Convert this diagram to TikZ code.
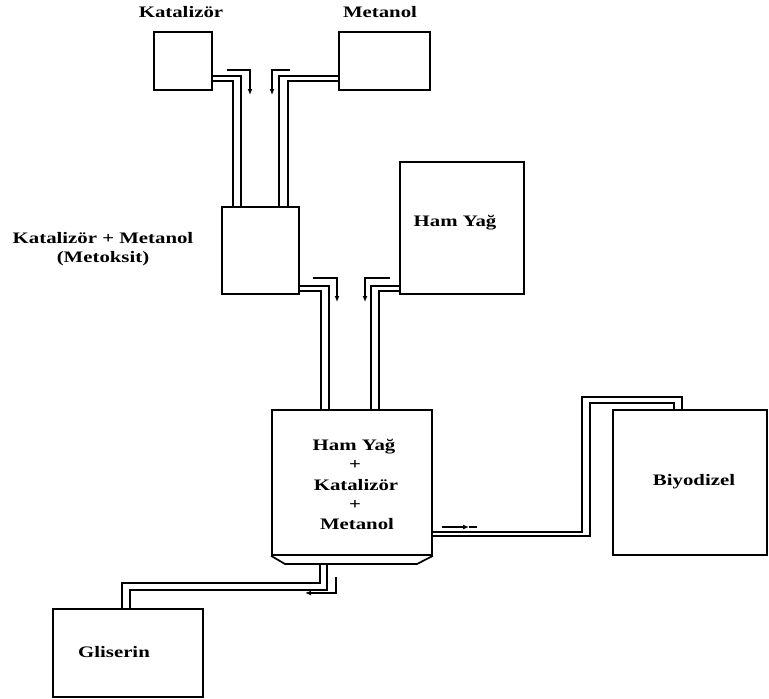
\documentclass[tikz,border=0pt]{standalone}
\usepackage{fontspec}
\setmainfont{Liberation Serif}[FakeStretch=1.3]
\usetikzlibrary{arrows.meta}
\begin{document}
\begin{tikzpicture}[x=1pt,y=-1pt,line width=1.7pt,
  tank/.style={draw,rectangle,inner sep=0pt},
  pipe/.style={draw,line width=1.7pt},
  flow/.style={draw,line width=1.4pt,-{Latex[length=6pt,width=5pt]}},
  lbl/.style={font=\fontsize{16}{19}\selectfont\bfseries,inner sep=0pt,anchor=base}]
\useasboundingbox (0,0) rectangle (769,699);
% tanks
\node[tank,minimum width=58pt,minimum height=58pt] (kat) at (183,61) {};
\node[tank,minimum width=91pt,minimum height=58pt] (met) at (384.5,61) {};
\node[tank,minimum width=77pt,minimum height=87pt] (mix) at (260.5,250.5) {};
\node[tank,minimum width=124pt,minimum height=132pt] (ham) at (462,228) {};
\node[tank,minimum width=160pt,minimum height=145pt] (reac) at (352,482.5) {};
\node[tank,minimum width=154pt,minimum height=145pt] (bio) at (690,482.5) {};
\node[tank,minimum width=150pt,minimum height=88pt] (gli) at (128,653) {};
% reactor bottom
\coordinate (rbl) at (285,564);
\coordinate (rbr) at (417,564);
\draw (reac.south west) -- (rbl) -- (rbr) -- (reac.south east);
% labels
\node[lbl] (tkat) at (181,17) {Katalizör};
\node[lbl] (tmet) at (380,17) {Metanol};
\node[lbl] (tmix1) at (103,243) {Katalizör + Metanol};
\node[lbl] (tmix2) at (103,262) {(Metoksit)};
\node[lbl] (tham) at (455,226) {Ham Yağ};
\node[lbl] (tr1) at (354,450) {Ham Yağ};
\node[lbl] (tr2) at (355,469) {+};
\node[lbl] (tr3) at (356,490) {Katalizör};
\node[lbl] (tr4) at (355,509) {+};
\node[lbl] (tr5) at (357,529) {Metanol};
\node[lbl] (tbio) at (694,485) {Biyodizel};
\node[lbl] (tgli) at (114,657) {Gliserin};
% pipes
\draw[pipe] (kat.east |- 0,76) -| (mix.north -| 241,0);
\draw[pipe] (kat.east |- 0,81) -| (mix.north -| 233,0);
\draw[pipe] (met.west |- 0,76) -| (mix.north -| 279,0);
\draw[pipe] (met.west |- 0,81) -| (mix.north -| 288,0);
\draw[pipe] (mix.east |- 0,286) -| (reac.north -| 329,0);
\draw[pipe] (mix.east |- 0,291) -| (reac.north -| 321,0);
\draw[pipe] (ham.west |- 0,286) -| (reac.north -| 371,0);
\draw[pipe] (ham.west |- 0,291) -| (reac.north -| 379,0);
\draw[pipe] (reac.east |- 0,532) -| (582,397) -| (bio.north -| 682,0);
\draw[pipe] (reac.east |- 0,536) -| (590,403) -| (bio.north -| 674,0);
\draw[pipe] (320,0 |- rbl) |- (122,583) -- (gli.north -| 122,0);
\draw[pipe] (327,0 |- rbl) |- (130,590) -- (gli.north -| 130,0);
% flow arrows
\coordinate (a1s) at (227,70); \coordinate (a1e) at (250,95);
\coordinate (a2s) at (290,70); \coordinate (a2e) at (272,95);
\coordinate (a3s) at (313,278); \coordinate (a3e) at (337,302);
\coordinate (a4s) at (390,278); \coordinate (a4e) at (365,302);
\coordinate (a5s) at (442,527); \coordinate (a5m) at (469,527); \coordinate (a5e) at (477,527);
\coordinate (a6s) at (336,577); \coordinate (a6e) at (305,593);
\draw[flow] (a1s) -| (a1e);
\draw[flow] (a2s) -| (a2e);
\draw[flow] (a3s) -| (a3e);
\draw[flow] (a4s) -| (a4e);
\draw[flow] (a5s) -- (a5m);
\draw[line width=1.4pt] (a5m) -- (a5e);
\draw[flow] (a6s) |- (a6e);
\end{tikzpicture}
\end{document}
